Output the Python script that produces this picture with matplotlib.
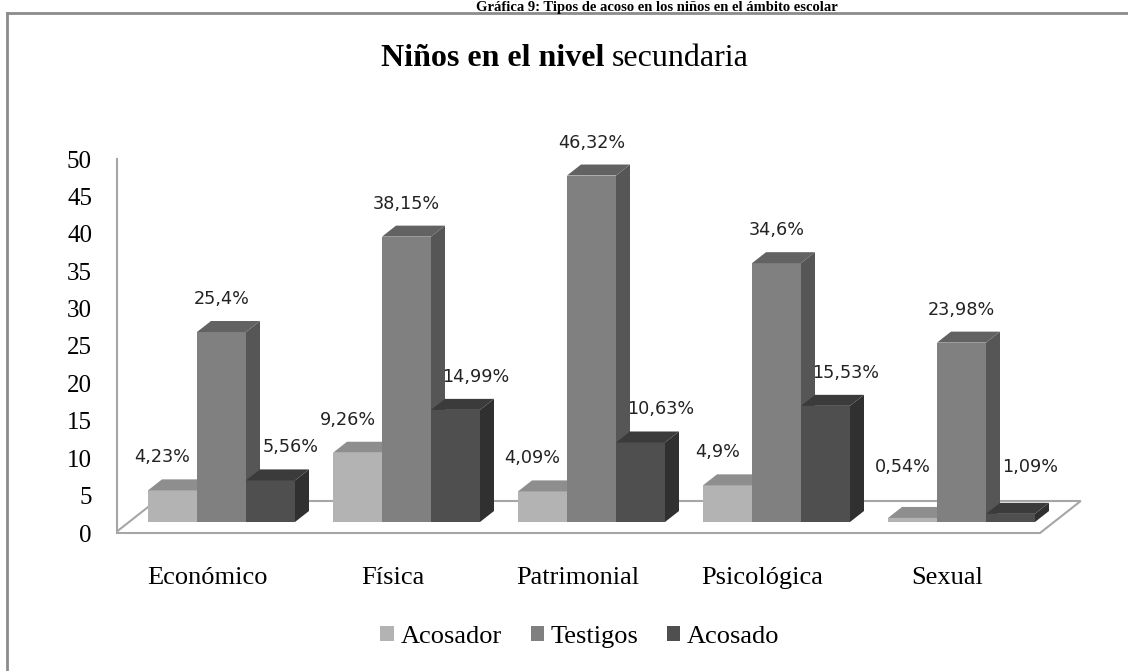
import matplotlib
matplotlib.use('Agg')
import matplotlib.pyplot as plt
from matplotlib.patches import Polygon, Patch
from matplotlib.lines import Line2D

# ---------------- data ----------------
categories = ['Económico', 'Física', 'Patrimonial', 'Psicológica', 'Sexual']
series_names = ['Acosador', 'Testigos', 'Acosado']
acosador = [4.23, 9.26, 4.09, 4.9, 0.54]
testigos = [25.4, 38.15, 46.32, 34.6, 23.98]
acosado = [5.56, 14.99, 10.63, 15.53, 1.09]
y_ticks = [0, 5, 10, 15, 20, 25, 30, 35, 40, 45, 50]
page_title = 'Gráfica 9: Tipos de acoso en los niños en el ámbito escolar'
chart_title_bold = 'Niños en el nivel'
chart_title_regular = 'secundaria'

series_values = [acosador, testigos, acosado]

# ---------------- styles / geometry ----------------
plt.rcParams['font.family'] = ['Liberation Serif', 'DejaVu Serif']
W, H = 1128, 671
PX_X = 185.0      # pixels per category
PX_Y = 7.48       # pixels per value unit
X0_PX = 221.5     # pixel x of category 0 centre
Y0_PX = 522.0     # pixel y (from top) of value 0 at bar front
AX_LEFT_PX = 117.0
DX = 14.0 / PX_X  # depth offset in data units
DY = 11.0 / PX_Y
BAR_W = 49.0 / PX_X

front_c = ['#b3b3b3', '#808080', '#4f4f4f']
top_c = ['#8e8e8e', '#626262', '#3b3b3b']
side_c = ['#8e8e8e', '#565656', '#303030']
edge_gray = '#a6a6a6'

fig = plt.figure(figsize=(W / 100, H / 100), dpi=100)
ax = fig.add_axes([AX_LEFT_PX / W, 0, 1 - AX_LEFT_PX / W, 1])
ax.set_xlim((AX_LEFT_PX - X0_PX) / PX_X, (W - X0_PX) / PX_X)
ax.set_ylim((Y0_PX - H) / PX_Y, Y0_PX / PX_Y)

for s in ['top', 'right', 'bottom']:
    ax.spines[s].set_visible(False)
ax.spines['left'].set_color(edge_gray)
ax.spines['left'].set_linewidth(1.5)
ax.spines['left'].set_bounds(y_ticks[0] - DY, y_ticks[-1] - DY)
ax.set_xticks([])
ax.set_yticks([t - DY for t in y_ticks])
ax.set_yticklabels([str(t) for t in y_ticks])
ax.tick_params(axis='y', length=0, pad=18, labelsize=18)
ax.patch.set_alpha(0)

n = len(categories)
# floor
fx0 = -0.5
fx1 = n - 0.5
floor = Polygon([(fx0 - DX, -DY), (fx1 - DX, -DY),
                 (fx1 + 21 / 11 * DX, 21 / 11 * DY), (fx0 + 21 / 11 * DX, 21 / 11 * DY)],
                closed=True, facecolor='white', edgecolor=edge_gray, lw=1.5, zorder=1)
ax.add_patch(floor)

z = 2
label_off_px = [-10, 0, 20]
for i in range(n):
    for j, vals in enumerate(series_values):
        v = vals[i]
        xc = i + (j - 1) * BAR_W
        x0 = xc - BAR_W / 2
        x1 = xc + BAR_W / 2
        ax.bar(xc, v, width=BAR_W, color=front_c[j], lw=0, zorder=z)
        side = Polygon([(x1, 0), (x1 + DX, DY), (x1 + DX, v + DY), (x1, v)],
                       closed=True, facecolor=side_c[j], lw=0, zorder=z)
        top = Polygon([(x0, v), (x1, v), (x1 + DX, v + DY), (x0 + DX, v + DY)],
                      closed=True, facecolor=top_c[j], lw=0, zorder=z)
        ax.add_patch(side)
        ax.add_patch(top)
        z += 1
        lbl = ('%g' % v).replace('.', ',') + '%'
        ax.text(xc + label_off_px[j] / PX_X, max(v, 3.0) + DY + 22 / PX_Y, lbl,
                ha='center', va='center', fontsize=12.7, family='DejaVu Sans',
                color='#222222', zorder=50)

for i, c in enumerate(categories):
    ax.text(i - DX, (Y0_PX - 584) / PX_Y, c, ha='center', va='baseline', fontsize=19)

# legend
handles = [Patch(facecolor=front_c[j], edgecolor='none') for j in range(3)]
fig.legend(handles, series_names, loc='center', bbox_to_anchor=(580 / W, 1 - 637 / H),
           ncol=3, frameon=False, fontsize=19, handlelength=0.5, handleheight=0.5,
           handletextpad=0.25, columnspacing=1.1, borderpad=0)

# frame lines
fig.add_artist(Line2D([7 / W, 7 / W], [0, 1 - 12.5 / H], transform=fig.transFigure,
                      color='#8c8c8c', lw=2))
fig.add_artist(Line2D([7 / W, 1], [1 - 12.5 / H, 1 - 12.5 / H], transform=fig.transFigure,
                      color='#8c8c8c', lw=2))

# page title (sits just above the frame)
fig.text(657 / W, 1 - 10.5 / H, page_title, ha='center', va='baseline', fontsize=10.5,
         fontweight='bold')

# chart title: bold + regular
t1 = fig.text(0, 1 - 66 / H, chart_title_bold, ha='left', va='baseline', fontsize=23,
              fontweight='bold')
t2 = fig.text(0, 1 - 66 / H, chart_title_regular, ha='left', va='baseline', fontsize=23)
fig.canvas.draw()
r = fig.canvas.get_renderer()
w1 = t1.get_window_extent(r).width
w2 = t2.get_window_extent(r).width
gap = 7
start = 565 - (w1 + gap + w2) / 2
t1.set_x(start / W)
t2.set_x((start + w1 + gap) / W)

fig.savefig('out.png', dpi=100)
